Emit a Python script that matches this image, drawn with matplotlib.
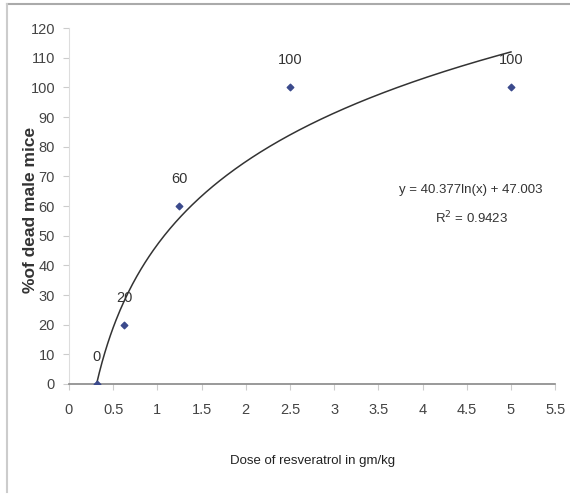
import numpy as np
import matplotlib
matplotlib.use('Agg')
import matplotlib.pyplot as plt
from matplotlib.lines import Line2D

plt.rcParams['font.family'] = ['Liberation Sans', 'DejaVu Sans']

# dose (gm/kg) vs % dead male mice
dose = [0.3125, 0.625, 1.25, 2.5, 5.0]
dead = [0, 20, 60, 100, 100]
point_labels = ['0', '20', '60', '100', '100']

# excel log trendline
a, b = 40.377, 47.003
eq_text = 'y = 40.377ln(x) + 47.003'
r2_text = 'R$^2$ = 0.9423'

xticks = [0, 0.5, 1, 1.5, 2, 2.5, 3, 3.5, 4, 4.5, 5, 5.5]
xtick_labels = ['0', '0.5', '1', '1.5', '2', '2.5', '3', '3.5', '4', '4.5', '5', '5.5']
yticks = list(range(0, 121, 10))

fig = plt.figure(figsize=(5.7, 4.94), dpi=100)
ax = fig.add_axes([0.121, 0.2227, 0.853, 0.7203])

# trend line
xx = np.linspace(dose[0], dose[-1], 300)
ax.plot(xx, a * np.log(xx) + b, color='#333333', linewidth=1.1, zorder=2)

ax.scatter(dose, dead, marker='D', s=11, color='#3b4a8c', zorder=3)
for xv, yv, lab in zip(dose, dead, point_labels):
    ax.annotate(lab, (xv, yv), xytext=(0, 19.5), textcoords='offset points',
                ha='center', va='center', fontsize=10.5, color='#333333')

ax.text(4.55, 65.4, eq_text, ha='center', va='center', fontsize=9.5, color='#333333')
ax.text(4.55, 56, r2_text, ha='center', va='center', fontsize=9.5, color='#333333')

ax.set_xlim(0, 5.5)
ax.set_ylim(0, 120)
ax.set_xticks(xticks)
ax.set_xticklabels(xtick_labels)
ax.set_yticks(yticks)
ax.tick_params(axis='x', length=4, color='#cccccc', labelsize=10.5, labelcolor='#444444', pad=10)
ax.tick_params(axis='y', length=4, color='#cccccc', labelsize=10.5, labelcolor='#444444', pad=6)

for s in ['top', 'right']:
    ax.spines[s].set_visible(False)
ax.spines['left'].set_color('#dddddd')
ax.spines['bottom'].set_color('#888888')
ax.spines['bottom'].set_linewidth(1.2)

ax.set_xlabel('Dose of resveratrol in gm/kg', fontsize=9.5, color='#222222')
ax.xaxis.set_label_coords((312 - 69) / 486, -(455 - 384) / 356)
ax.set_ylabel('%of dead male mice', fontsize=12.5, fontweight='bold', color='#333333')
ax.yaxis.set_label_coords(-(69 - 38) / 486, 0.49)

# outer frame lines (top and left)
fig.add_artist(Line2D([7 / 570, 1], [1 - 4.5 / 494, 1 - 4.5 / 494], color='#aaaaaa', linewidth=1.5))
fig.add_artist(Line2D([7 / 570, 7 / 570], [1 - 4.5 / 494, 1 - 492 / 494], color='#cccccc', linewidth=1.5))

fig.savefig('out.png', dpi=100)
